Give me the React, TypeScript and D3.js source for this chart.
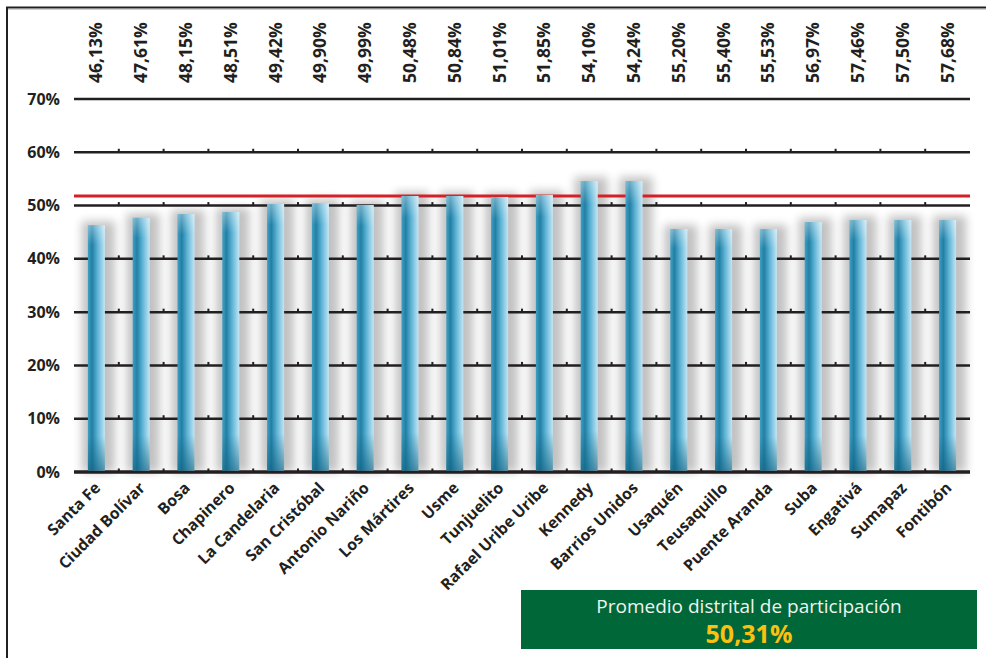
import * as d3 from "d3";

const localidades = [
  "Santa Fe", "Ciudad Bolívar", "Bosa", "Chapinero", "La Candelaria",
  "San Cristóbal", "Antonio Nariño", "Los Mártires", "Usme", "Tunjuelito",
  "Rafael Uribe Uribe", "Kennedy", "Barrios Unidos", "Usaquén", "Teusaquillo",
  "Puente Aranda", "Suba", "Engativá", "Sumapaz", "Fontibón",
];
// bar heights as drawn (percent)
const barValues = [
  46.3, 47.7, 48.4, 48.8, 50.3, 50.4, 50.1, 51.8, 51.8, 51.6,
  52.0, 54.6, 54.6, 45.6, 45.6, 45.6, 46.9, 47.3, 47.3, 47.3,
];
// labels printed above the plot
const topLabels = [
  46.13, 47.61, 48.15, 48.51, 49.42, 49.9, 49.99, 50.48, 50.84, 51.01,
  51.85, 54.1, 54.24, 55.2, 55.4, 55.53, 56.97, 57.46, 57.5, 57.68,
];
const yTicks = [0, 10, 20, 30, 40, 50, 60, 70];
const redLine = 51.8;
const promedio = 50.31;

const fmt = (v: number) => v.toFixed(2).replace(".", ",") + "%";

export default function App() {
  const W = 986;
  const H = 658;
  const left = 74;
  const right = 970;
  const x = d3
    .scaleBand<string>()
    .domain(localidades)
    .range([left, right])
    .paddingInner(0.62)
    .paddingOuter(0.31);
  const y = d3.scaleLinear().domain([0, 70]).range([472, 99]);
  const bw = x.bandwidth();
  const step = x.step();
  const font = "'Open Sans', 'Noto Sans', sans-serif";

  return (
    <svg
      width={W}
      height={H}
      viewBox={`0 0 ${W} ${H}`}
      style={{ position: "fixed", left: 0, top: 0, background: "#fff" }}
    >
      <defs>
        <linearGradient id="barH" x1="0" x2="1" y1="0" y2="0">
          <stop offset="0" stopColor="#3f9fc4" />
          <stop offset="0.25" stopColor="#227fa4" />
          <stop offset="0.55" stopColor="#58b0d3" />
          <stop offset="1" stopColor="#c4e6f4" />
        </linearGradient>
        <linearGradient id="barV" x1="0" x2="0" y1="0" y2="1">
          <stop offset="0" stopColor="#ffffff" stopOpacity="0.35" />
          <stop offset="0.08" stopColor="#ffffff" stopOpacity="0" />
          <stop offset="0.86" stopColor="#0f5f7e" stopOpacity="0" />
          <stop offset="1" stopColor="#0f5f7e" stopOpacity="0.6" />
        </linearGradient>
        <filter id="blur" x="-1" y="-0.2" width="3" height="1.4">
          <feGaussianBlur stdDeviation="5" />
        </filter>
      </defs>

      {/* frame */}
      <line x1={6} x2={W} y1={7.5} y2={7.5} stroke="#231f20" strokeWidth={2} />
      <line x1={6} x2={W} y1={9.5} y2={9.5} stroke="#d0d0d0" strokeWidth={1} />
      <line x1={7} x2={7} y1={7} y2={H} stroke="#231f20" strokeWidth={2} />

      {/* shadows */}
      {localidades.map((c, i) => (
        <rect
          key={"s" + c}
          x={(x(c) ?? 0) - 6}
          y={y(barValues[i]) - 4}
          width={bw + 16}
          height={y(0) - y(barValues[i]) + 4}
          fill="#000"
          opacity={0.24}
          filter="url(#blur)"
        />
      ))}

      {/* gridlines */}
      {yTicks.map((t) => (
        <g key={"g" + t}>
          <line
            x1={left}
            x2={right}
            y1={y(t)}
            y2={y(t)}
            stroke="#231f20"
            strokeWidth={t === 0 ? 3.5 : 2.5}
          />
          {t < 70 &&
            d3.range(1, localidades.length).map((k) => (
              <rect
                key={k}
                x={left + k * step - 1}
                y={y(t) - 3.5}
                width={2}
                height={3}
                fill="#231f20"
              />
            ))}
          <text
            x={60}
            y={y(t) + 5.5}
            textAnchor="end"
            fontFamily={font}
            fontWeight={700}
            fontSize={16}
            fill="#231f20"
          >
            {t}%
          </text>
        </g>
      ))}

      {/* red reference line */}
      <line
        x1={left}
        x2={right}
        y1={y(redLine)}
        y2={y(redLine)}
        stroke="#d42027"
        strokeWidth={3}
      />

      {/* bars */}
      {localidades.map((c, i) => {
        const bx = x(c) ?? 0;
        const by = y(barValues[i]);
        const bh = y(0) - 1.5 - by;
        return (
          <g key={"b" + c}>
            <rect x={bx} y={by} width={bw} height={bh} fill="url(#barH)" />
            <rect x={bx} y={by} width={bw} height={bh} fill="url(#barV)" />
          </g>
        );
      })}

      {/* top value labels */}
      {localidades.map((c, i) => {
        const cx = (x(c) ?? 0) + bw / 2;
        return (
          <text
            key={"t" + c}
            transform={`translate(${cx + 6},83) rotate(-90)`}
            fontFamily={font}
            fontWeight={700}
            fontSize={17.5}
            fill="#231f20"
          >
            {fmt(topLabels[i])}
          </text>
        );
      })}

      {/* category labels */}
      {localidades.map((c) => {
        const cx = (x(c) ?? 0) + bw / 2;
        return (
          <text
            key={"c" + c}
            transform={`translate(${cx + 5},489) rotate(-45)`}
            textAnchor="end"
            fontFamily={font}
            fontWeight={700}
            fontSize={15.8}
            fill="#231f20"
          >
            {c}
          </text>
        );
      })}

      {/* promedio box */}
      <rect x={521} y={590} width={456} height={59} fill="#006838" />
      <text
        x={749}
        y={613}
        textAnchor="middle"
        fontFamily={font}
        fontSize={19}
        fill="#f0f4f0"
      >
        Promedio distrital de participación
      </text>
      <text
        x={749}
        y={643}
        textAnchor="middle"
        fontFamily={font}
        fontWeight={700}
        fontSize={25}
        fill="#fcc010"
      >
        {fmt(promedio)}
      </text>
    </svg>
  );
}
